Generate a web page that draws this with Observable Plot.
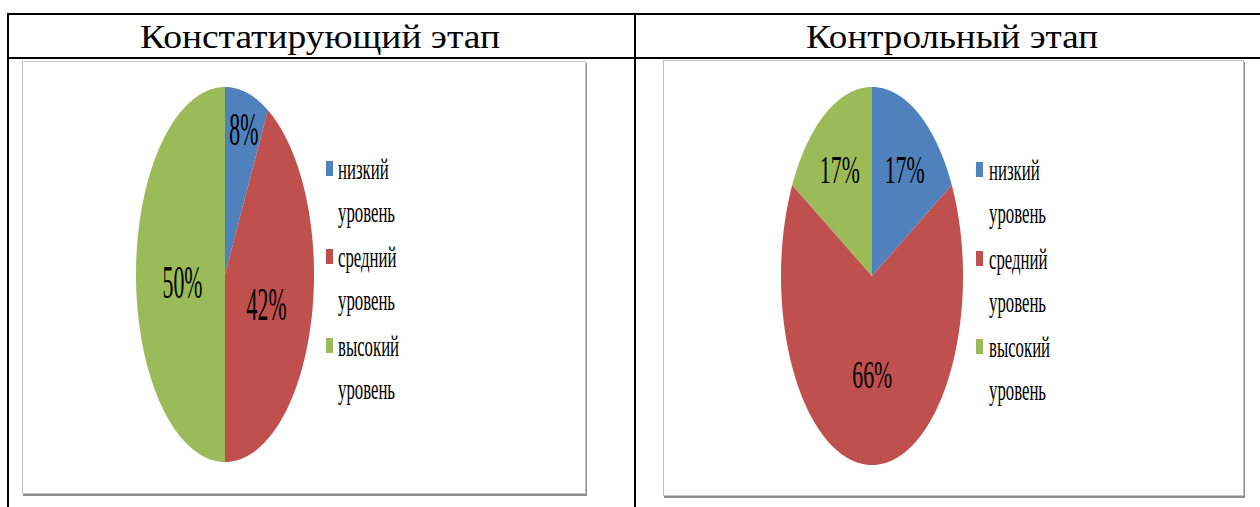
<!DOCTYPE html>
<html><head><meta charset="utf-8">
<script src="https://cdn.jsdelivr.net/npm/d3@7"></script>
<script src="https://cdn.jsdelivr.net/npm/@observablehq/plot@0.6"></script>
<style>
html,body{margin:0;padding:0;background:#fff;}
#page{position:relative;width:1260px;height:507px;overflow:hidden;background:#fff;}
.ln{position:absolute;background:#000;}
.title{position:absolute;top:19px;font-size:34px;line-height:35px;color:#000;white-space:nowrap;transform-origin:0 0;}
.frame{position:absolute;border:1px solid #c4c4c4;box-shadow:1px 2px 0 #8e8e8e;background:#fff;}
.chart{position:absolute;transform-origin:0 0;}
.chart svg{max-width:none !important;overflow:visible;display:block;}
.leg{position:absolute;font-size:29px;line-height:31px;white-space:nowrap;transform-origin:0 0;color:#000;}
.sw{position:absolute;width:7px;height:15px;}
</style></head><body><div id="page"></div>
<script>
// ---- data ----
const stages = ["Констатирующий этап", "Контрольный этап"];
const categories = ["низкий уровень", "средний уровень", "высокий уровень"];
const legendLines = [["низкий", "уровень"], ["средний", "уровень"], ["высокий", "уровень"]];
const valuesStage1 = [8, 42, 50];
const valuesStage2 = [17, 66, 17];
const colors = ["#4F81BD", "#C0504D", "#9BBB59"];

// pick the first installed serif face
const candidates = ["Liberation Serif", "DejaVu Serif", "Tinos", "Times New Roman", "Noto Serif", "FreeSerif", "Nimbus Roman", "Nimbus Roman No9 L", "Times", "DejaVu Serif Condensed"];
const ctx = document.createElement("canvas").getContext("2d");
function width(font) { ctx.font = font; return ctx.measureText("Констатирующий этап 0123%").width; }
let picked = null;
for (const c of candidates) {
  if (width(`30px "${c}", monospace`) !== width("30px monospace") || width(`30px "${c}", sans-serif`) !== width("30px sans-serif")) { picked = c; break; }
}
const FONT = (picked ? `"${picked}",` : "") + "serif";
document.getElementById("page").style.fontFamily = FONT;

// ---- layout ----
const page = document.getElementById("page");
function el(cls, css, html) {
  const d = document.createElement("div");
  d.className = cls;
  Object.assign(d.style, css);
  if (html != null) d.textContent = html;
  page.appendChild(d);
  return d;
}
function fitWidth(d, target) {
  const w = d.getBoundingClientRect().width;
  d.style.transform = `scaleX(${target / w})`;
}
el("ln", {left: "7px", top: "13px", width: "1260px", height: "2px"});
el("ln", {left: "7px", top: "57px", width: "1260px", height: "2px"});
el("ln", {left: "7px", top: "13px", width: "2px", height: "500px"});
el("ln", {left: "634px", top: "13px", width: "2px", height: "500px"});
fitWidth(el("title", {left: "140px"}, stages[0]), 360);
fitWidth(el("title", {left: "806px"}, stages[1]), 292);

function slices(values) {
  const total = d3.sum(values);
  let acc = 0;
  return values.map((v, i) => {
    const a0 = acc / total * 2 * Math.PI;
    acc += v;
    const a1 = acc / total * 2 * Math.PI;
    return {cat: categories[i], value: v, frac: v / total, a0, a1};
  });
}
function arcPoints(sl) {
  const pts = [];
  for (const s of sl) {
    const n = Math.max(2, Math.ceil((s.a1 - s.a0) / (Math.PI / 180)));
    for (let k = 0; k <= n; k++) {
      const a = s.a0 + (s.a1 - s.a0) * k / n;
      pts.push({cat: s.cat, x1: Math.sin(a), y1: Math.cos(a), x2: 0, y2: 0});
    }
  }
  return pts;
}
const labR = d => d.frac < 0.1 ? 0.84 : d.frac < 0.3 ? 0.7 : 0.48;
const mid = d => (d.a0 + d.a1) / 2;

function drawPie(values, cfg) {
  el("frame", {left: cfg.fx + "px", top: cfg.fy + "px", width: cfg.fw + "px", height: cfg.fh + "px"});
  const s = cfg.rx / cfg.ry;
  const d = 2 * cfg.ry;
  const W = Math.round(cfg.fw / s);
  const H = cfg.fh;
  const ml = (cfg.cx - cfg.rx - cfg.fx - 1) / s;
  const mt = cfg.cy - cfg.ry - cfg.fy - 1;
  const sl = slices(values);
  const chart = Plot.plot({
    width: W, height: H,
    marginLeft: ml, marginRight: W - ml - d,
    marginTop: mt, marginBottom: H - mt - d,
    x: {domain: [-1, 1], axis: null},
    y: {domain: [-1, 1], axis: null},
    color: {domain: categories, range: colors},
    style: {background: "transparent", overflow: "visible"},
    marks: [
      Plot.area(arcPoints(sl), {x1: "x1", y1: "y1", x2: "x2", y2: "y2", z: "cat", fill: "cat"}),
      Plot.text(sl, {
        x: d => labR(d) * Math.sin(mid(d)),
        y: d => labR(d) * Math.cos(mid(d)),
        text: d => d.value + "%",
        fontSize: cfg.fs, fontFamily: FONT, fill: "#000", dy: 8
      })
    ]
  });
  const box = el("chart", {left: (cfg.fx + 1) + "px", top: (cfg.fy + 1) + "px", width: W + "px", height: H + "px", transform: `scaleX(${s})`});
  box.appendChild(chart);
  const texts = Array.from(chart.querySelectorAll("text"));
  const ref = texts.find(t => t.textContent.length === 3);
  const k = (cfg.labW / s) / ref.getComputedTextLength();
  texts.forEach(t => {
    t.setAttribute("textLength", t.getComputedTextLength() * k);
    t.setAttribute("lengthAdjust", "spacingAndGlyphs");
  });
  let legScale = null;
  legendLines.forEach((lines, i) => {
    const b = cfg.legB[i];
    el("sw", {left: cfg.swx + "px", top: (b - 19) + "px", background: colors[i]});
    lines.forEach((t, j) => {
      const e = el("leg", {left: cfg.tx + "px", top: (b + j * 43 - 26) + "px"}, t);
      if (legScale == null && t === "уровень") legScale = 57 / e.getBoundingClientRect().width;
    });
  });
  page.querySelectorAll(".leg").forEach(e => e.style.transform = `scaleX(${legScale})`);
}

drawPie(valuesStage1, {fx: 22, fy: 61, fw: 562, fh: 431, cx: 225, cy: 274.5, rx: 89, ry: 187.5, fs: 46, labW: 40,
  swx: 326, tx: 338, legB: [180, 268, 357]});
drawPie(valuesStage2, {fx: 663, fy: 60, fw: 579, fh: 434, cx: 872, cy: 276, rx: 91, ry: 189, fs: 40, labW: 40,
  swx: 976, tx: 989, legB: [181, 270, 358]});
</script></body></html>
